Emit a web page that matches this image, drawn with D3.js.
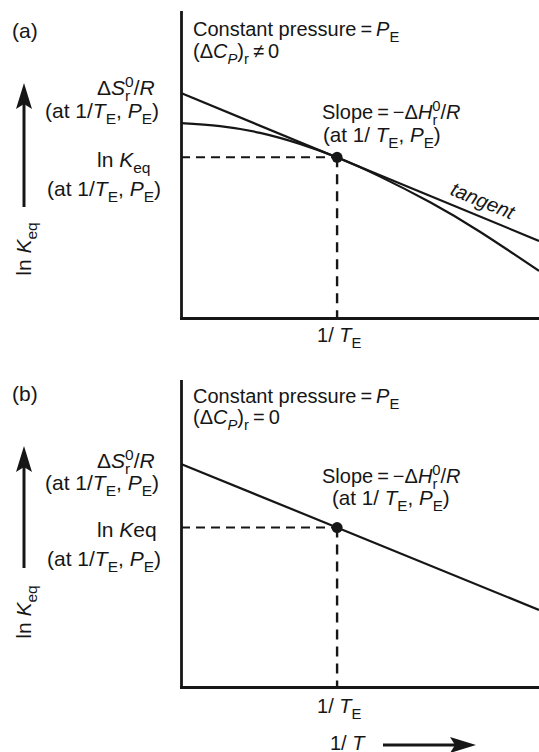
<!DOCTYPE html>
<html><head><meta charset="utf-8">
<script src="https://cdn.jsdelivr.net/npm/d3@7"></script>
<style>
body{margin:0;background:#fff}
text{font-family:"Liberation Sans",Arial,Helvetica,sans-serif;fill:#161616}
</style>
</head><body>
<svg id="c" width="539" height="752"></svg>
<script>
// ---- data (arbitrary units) ----
const xDomain = [0, 10];
const yDomain = [0, 10];
const xE = 4.36;                                   // 1/T_E
const curveAx = [0, 1.09, 2.21, 3.32, 4.36, 5.56, 6.96, 8.35, 10];
const curveAy = [6.37, 6.27, 6.05, 5.69, 5.25, 4.62, 3.78, 2.82, 1.54];
const tangentAx = [0, 10];
const tangentAy = [7.35, 2.52];
const lineBx = [0, 10];
const lineBy = [7.29, 2.52];
const lnKeqA = 5.25;
const lnKeqB = 5.21;

const svg = d3.select('#c');
const INK = '#161616';

function rich(g, x, y, parts, fs, extra) {
  fs = fs || 20;
  const t = g.append('text').attr('x', x).attr('y', y).attr('font-size', fs);
  if (extra) extra(t);
  let shift = 0;
  parts.forEach(p => {
    const [s, o] = Array.isArray(p) ? [p[0], p[1] || {}] : [p, {}];
    const target = o.sub ? fs * 0.28 : o.sup ? -fs * 0.4 : 0;
    const ts = t.append('tspan').text(s);
    if (target !== shift) ts.attr('dy', target - shift);
    shift = target;
    if (o.dx) ts.attr('dx', o.dx);
    if (o.i) ts.attr('font-style', 'italic');
    if (o.sub || o.sup) ts.attr('font-size', fs * 0.74);
  });
  return t;
}

function arrow(g, x1, y1, x2, y2) {
  const ang = Math.atan2(y2 - y1, x2 - x1);
  const L = 26, W = 8, N = 5;
  const c = Math.cos(ang), s = Math.sin(ang);
  const bx = x2 - L * c, by = y2 - L * s;
  g.append('line').attr('x1', x1).attr('y1', y1).attr('x2', x2 - (L - N) * c).attr('y2', y2 - (L - N) * s)
    .attr('stroke', INK).attr('stroke-width', 3);
  g.append('path').attr('d', `M${x2},${y2}L${bx - W * s},${by + W * c}L${x2 - (L - N) * c},${y2 - (L - N) * s}L${bx + W * s},${by - W * c}Z`)
    .attr('fill', INK);
}

function panel(cfg) {
  const g = svg.append('g');
  const x = d3.scaleLinear().domain(xDomain).range([181, 539]);
  const y = d3.scaleLinear().domain(yDomain).range([cfg.bottom, cfg.top]);
  const line = d3.line().x(d => x(d[0])).y(d => y(d[1]));

  g.append('g').attr('transform', `translate(181,0)`)
    .call(d3.axisLeft(y).tickValues([]).tickSizeOuter(0));
  g.append('g').attr('transform', `translate(0,${cfg.bottom})`)
    .call(d3.axisBottom(x).tickValues([]).tickSizeOuter(0));
  g.selectAll('.domain').attr('stroke', INK).attr('stroke-width', 2.8).attr('stroke-linecap', 'square');

  // dashed guides
  g.append('path').attr('d', line([[xDomain[0], cfg.lnK], [xE, cfg.lnK]]))
    .attr('stroke', INK).attr('stroke-width', 2).attr('stroke-dasharray', '9,6').attr('fill', 'none');
  g.append('path').attr('d', line([[xE, cfg.lnK], [xE, yDomain[0]]]))
    .attr('stroke', INK).attr('stroke-width', 2.4).attr('stroke-dasharray', '10,7').attr('fill', 'none');

  cfg.series.forEach(s => {
    const l = d3.line().x(d => x(d[0])).y(d => y(d[1])).curve(s.curve || d3.curveLinear);
    g.append('path').datum(s.x.map((v, i) => [v, s.y[i]]))
      .attr('d', l)
      .attr('fill', 'none').attr('stroke', INK).attr('stroke-width', 2.2);
  });

  g.append('circle').attr('cx', x(xE)).attr('cy', y(cfg.lnK)).attr('r', 5.5).attr('fill', INK);
  return { g, x, y };
}

const A = panel({
  top: 12, bottom: 318, lnK: lnKeqA,
  series: [
    { x: tangentAx, y: tangentAy },
    { x: curveAx, y: curveAy, curve: d3.curveNatural }
  ]
});
const B = panel({
  top: 381, bottom: 687, lnK: lnKeqB,
  series: [{ x: lineBx, y: lineBy }]
});

const T = svg.append('g');
const LF = 21; // left label font
function labels(o, p, b) {
  rich(T, 12, o.lab, [b ? '(b)' : '(a)'], 21);
  rich(T, 193, o.cp, ['Constant pressure\u2009=\u2009', ['P', { i: 1 }], ['E', { sub: 1 }]]);
  rich(T, 193, o.cp2, ['(\u0394', ['C', { i: 1 }], ['P', { sub: 1, i: 1 }], [')', {}], ['r', { sub: 1 }], b ? '\u2009=\u20090' : '\u2009\u2260\u20090']);
  rich(T, 97, o.ds, ['\u0394', ['S', { i: 1 }], ['0', { sup: 1 }], ['r', { sub: 1, dx: -8.6 }], ['/', { dx: 3.4 }], ['R', { i: 1 }]], LF);
  rich(T, 45, o.at1, ['(at 1/', ['T', { i: 1 }], ['E', { sub: 1 }], ', ', ['P', { i: 1 }], ['E', { sub: 1 }], ')'], LF);
  if (b) rich(T, 97, o.lnk, ['ln ', ['K', { i: 1 }], 'eq'], LF);
  else rich(T, 97, o.lnk, ['ln ', ['K', { i: 1 }], ['eq', { sub: 1 }]], LF);
  rich(T, 47, o.at2, ['(at 1/', ['T', { i: 1 }], ['E', { sub: 1 }], ', ', ['P', { i: 1 }], ['E', { sub: 1 }], ')'], LF);
  rich(T, 322, o.sl, ['Slope\u2009=\u2009\u2212\u0394', ['H', { i: 1 }], ['0', { sup: 1 }], ['r', { sub: 1, dx: -8.2 }], ['/', { dx: 3.2 }], ['R', { i: 1 }]]);
  rich(T, o.slx2, o.sl2, ['(at 1/ ', ['T', { i: 1 }], ['E', { sub: 1 }], ', ', ['P', { i: 1 }], ['E', { sub: 1 }], ')'], 20.6);
  rich(T, p.x(xE) - 20, o.te, ['1/ ', ['T', { i: 1 }], ['E', { sub: 1 }]]);
  rich(T, 0, 0, ['ln ', ['K', { i: 1 }], ['eq', { sub: 1 }]], LF, t => t.attr('text-anchor', 'middle').attr('transform', `translate(31,${o.rot}) rotate(-90)`));
  arrow(T, 24, o.arB, 24, o.arT);
}
labels({ lab: 38, cp: 36, cp2: 58, ds: 95, at1: 118, lnk: 167, at2: 196, sl: 119, slx2: 323, sl2: 142, te: 342, rot: 249, arB: 207, arT: 83 }, A, false);
labels({ lab: 401, cp: 403, cp2: 424, ds: 468, at1: 490, lnk: 537, at2: 566, sl: 483, slx2: 332, sl2: 505, te: 713, rot: 612, arB: 568, arT: 446 }, B, true);

// tangent label, rotated parallel to the tangent
{
  const ang = Math.atan2(A.y(tangentAy[1]) - A.y(tangentAy[0]), A.x(tangentAx[1]) - A.x(tangentAx[0])) * 180 / Math.PI;
  T.append('text').attr('font-size', 20).attr('font-style', 'italic').attr('text-anchor', 'middle')
    .attr('transform', `translate(480,207) rotate(${ang})`).text('tangent');
}
// bottom 1/T arrow
rich(T, 330, 750, ['1/ ', ['T', { i: 1 }]]);
arrow(T, 383, 745, 476, 745);
</script>
</body></html>
